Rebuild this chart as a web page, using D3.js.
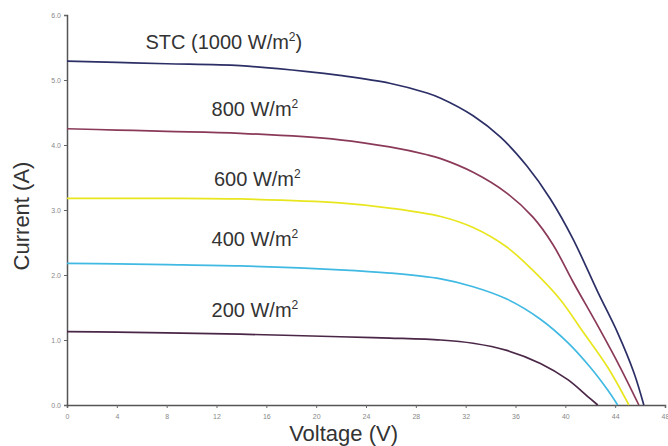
<!DOCTYPE html>
<html>
<head>
<meta charset="utf-8">
<script src="https://cdn.jsdelivr.net/npm/d3@7"></script>
<style>
  body { margin: 0; background: #fff; }
  svg { display: block; font-family: "Liberation Sans", Arial, sans-serif; }
</style>
</head>
<body>
<svg id="chart" width="668" height="446"></svg>
<script>
// I-V curves of a PV module at different irradiance levels
const xTicks = [0, 4, 8, 12, 16, 20, 24, 28, 32, 36, 40, 44, 48];
const yTicks = [0, 1, 2, 3, 4, 5, 6];
const yTickLabels = ["0.0", "1.0", "2.0", "3.0", "4.0", "5.0", "6.0"];

const seriesNames = ["STC (1000 W/m", "800 W/m", "600 W/m", "400 W/m", "200 W/m"];
const seriesSuffix = ["2", "2", "2", "2", "2"];

// [voltage, current]
const stc = [[0, 5.29], [4, 5.27], [8, 5.25], [13.9, 5.22], [19.3, 5.13], [21.9, 5.07], [25.9, 4.95], [28.9, 4.8],
  [30.0, 4.72], [32.6, 4.45], [34.8, 4.12], [36.9, 3.68], [38.8, 3.17], [40.6, 2.56], [42.6, 1.74],
  [44.2, 1.11], [45.5, 0.5], [46.3, 0]];
const w800 = [[0, 4.25], [4, 4.23], [8, 4.21], [13.9, 4.18], [21.9, 4.08], [25.9, 3.97], [28.9, 3.85],
  [30.0, 3.79], [32.6, 3.58], [35.3, 3.26], [37.4, 2.89], [39.0, 2.47], [40.6, 1.9], [42.6, 1.22],
  [44.4, 0.58], [45.9, 0]];
const w600 = [[0, 3.18], [4, 3.18], [8, 3.18], [13.9, 3.17], [21.9, 3.11], [25.9, 3.03], [30.0, 2.9],
  [32.6, 2.73], [35.3, 2.43], [37.4, 2.07], [39.6, 1.62], [41.4, 1.13], [43.4, 0.58], [45.1, 0]];
const w400 = [[0, 2.18], [4, 2.17], [8, 2.16], [13.9, 2.14], [21.9, 2.08], [25.9, 2.03], [30.0, 1.94],
  [32.6, 1.82], [35.3, 1.63], [38.0, 1.32], [40.2, 0.96], [42.0, 0.58], [43.4, 0.23], [44.2, 0]];
const w200 = [[0, 1.13], [4, 1.12], [8, 1.11], [13.9, 1.09], [21.9, 1.05], [25.9, 1.03], [30.0, 1.0],
  [32.6, 0.95], [35.3, 0.84], [38.0, 0.64], [40.2, 0.39], [41.8, 0.13], [42.6, 0]];

const series = [stc, w800, w600, w400, w200];
const colors = ["#2c2f66", "#8a3a58", "#e8e61e", "#40b9e3", "#4a2747"];
// label anchor (left edge, baseline) in data units
const labelAt = [[6.3, 5.47], [11.6, 4.45], [11.8, 3.37], [11.6, 2.44], [11.6, 1.36]];

const width = 668, height = 446;
const margin = { top: 15, right: 3, bottom: 41, left: 67 };

const x = d3.scaleLinear().domain([0, 48]).range([margin.left, width - margin.right]);
const y = d3.scaleLinear().domain([0, 6]).range([height - margin.bottom, margin.top]);

const svg = d3.select("#chart");

svg.append("g")
  .attr("transform", `translate(0,${y(0)})`)
  .call(d3.axisBottom(x).tickValues(xTicks).tickSize(3).tickPadding(6))
  .call(g => g.select(".domain").attr("stroke", "#555").attr("stroke-width", 1.5))
  .call(g => g.selectAll(".tick line").attr("stroke", "#666"))
  .call(g => g.selectAll(".tick text").attr("fill", "#888").attr("font-size", 7));

svg.append("g")
  .attr("transform", `translate(${x(0)},0)`)
  .call(d3.axisLeft(y).tickValues(yTicks).tickFormat((d, i) => yTickLabels[i]).tickSize(3).tickPadding(3))
  .call(g => g.select(".domain").attr("stroke", "#555").attr("stroke-width", 1.5))
  .call(g => g.selectAll(".tick line").attr("stroke", "#666"))
  .call(g => g.selectAll(".tick text").attr("fill", "#888").attr("font-size", 7));

const line = d3.line()
  .x(d => x(d[0]))
  .y(d => y(d[1]))
  .curve(d3.curveCatmullRom.alpha(0.5));

series.forEach((s, i) => {
  svg.append("path")
    .datum(s)
    .attr("fill", "none")
    .attr("stroke", colors[i])
    .attr("stroke-width", 1.7)
    .attr("d", line);

  const t = svg.append("text")
    .attr("x", x(labelAt[i][0]))
    .attr("y", y(labelAt[i][1]))
    .attr("font-size", 20)
    .attr("fill", "#333");
  t.append("tspan").text(seriesNames[i]);
  t.append("tspan").attr("font-size", 12).attr("dy", -8).text(seriesSuffix[i]);
  if (i === 0) t.append("tspan").attr("dy", 8).text(")");
});

// axis titles
svg.append("text")
  .attr("transform", `translate(29,216) rotate(-90)`)
  .attr("text-anchor", "middle")
  .attr("font-size", 22)
  .attr("fill", "#333")
  .text("Current (A)");

svg.append("text")
  .attr("x", x(22.2))
  .attr("y", 441)
  .attr("text-anchor", "middle")
  .attr("font-size", 22)
  .attr("fill", "#333")
  .text("Voltage (V)");
</script>
</body>
</html>
